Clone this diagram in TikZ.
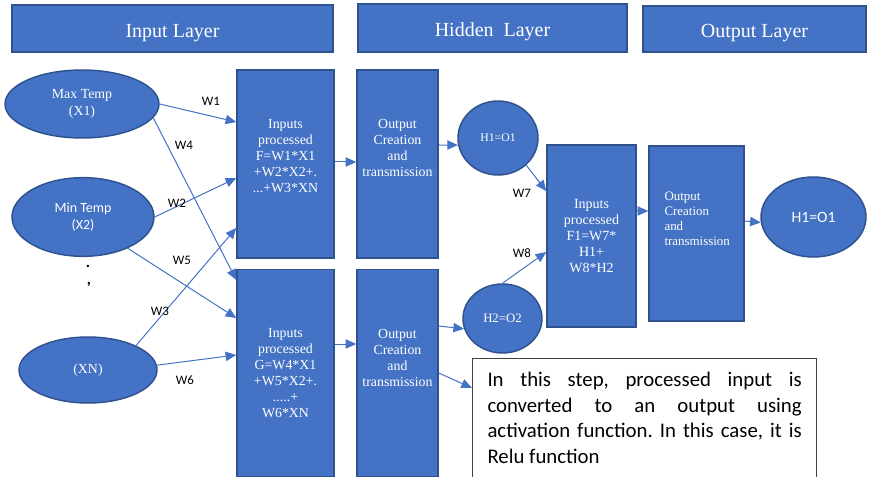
\documentclass[tikz,border=0pt]{standalone}
\usepackage{fontspec}
\setmainfont{Liberation Serif}
\newfontfamily\calibri{Carlito}
\usetikzlibrary{arrows.meta}
\usetikzlibrary{shapes.geometric}
\definecolor{nnblue}{HTML}{4472C4}
\definecolor{nnedge}{HTML}{2F528F}
\tikzset{
  layerbox/.style={draw=nnedge, line width=1.5pt, fill=nnblue, text=white, inner sep=0pt, text height=14.5pt, text depth=1.3pt, font=\fontsize{15}{18}\selectfont},
  blockbox/.style={draw=nnedge, line width=1.1pt, fill=nnblue, inner sep=0pt},
  blocktext/.style={text=white, align=center, inner sep=0pt, font=\fontsize{10.4}{12}\selectfont},
  neuron/.style={ellipse, draw=nnedge, line width=1.1pt, fill=nnblue, text=white, inner sep=0pt, align=center, font=\fontsize{10.4}{12.5}\selectfont},
  wlabel/.style={inner sep=0pt, font=\calibri\fontsize{9.7}{11}\selectfont},
  link/.style={nnblue, line width=0.75pt, -{Triangle[length=8pt,width=7pt]}},
}
\begin{document}
\begin{tikzpicture}[x=0.75pt,y=-0.75pt]
\useasboundingbox (0,0) rectangle (871,477);
% layer titles
\node[layerbox, minimum width=240.75pt, minimum height=35.25pt] (inlayer) at (172.5,28.5) {Input Layer};
\node[layerbox, minimum width=201.75pt, minimum height=36pt] (hidlayer) at (492.5,28) {Hidden\ \ Layer};
\node[layerbox, minimum width=167.25pt, minimum height=34.5pt] (outlayer) at (754.5,29) {Output Layer};
% inputs
\node[neuron, minimum width=115.5pt, minimum height=51pt] (x1) at (82,104) {Max Temp\\(X1)};
\node[neuron, minimum width=106.5pt, minimum height=59pt, font=\calibri\fontsize{10.5}{12.5}\selectfont] (x2) at (83,217) {Min Temp\\(X2)};
\node[inner sep=0pt, font=\calibri\bfseries\fontsize{12}{12}\selectfont] (dotA) at (88,266) {.};
\node[inner sep=0pt, font=\calibri\bfseries\fontsize{12}{12}\selectfont] (dotB) at (89,284) {,};
\node[neuron, minimum width=103.5pt, minimum height=49.5pt] (xn) at (88,370) {(XN)};
% first hidden stage
\node[blockbox, minimum width=72.75pt, minimum height=141pt] (procF) at (285.5,164) {};
\node[blocktext] (procFtxt) at ([yshift=6pt]procF.center) {Inputs\\processed\\F=W1*X1\\+W2*X2+.\\...+W3*XN};
\node[blockbox, minimum width=60.75pt, minimum height=141pt] (outF) at (397.5,164) {};
\node[blocktext] (outFtxt) at ([yshift=12pt]outF.center) {Output\\Creation\\and\\transmission};
\node[blockbox, minimum width=72.75pt, minimum height=155.25pt] (procG) at (285.5,373) {};
\node[blocktext] (procGtxt) at (procG.center) {Inputs\\processed\\G=W4*X1\\+W5*X2+.\\.....+\\W6*XN};
\node[blockbox, minimum width=60.75pt, minimum height=155.25pt] (outG) at (397.5,373) {};
\node[blocktext] (outGtxt) at ([yshift=11.6pt]outG.center) {Output\\Creation\\and\\transmission};
\node[neuron, minimum width=60pt, minimum height=55.5pt, font=\fontsize{8.8}{10}\selectfont] (h1) at (498,138) {H1=O1};
\node[neuron, minimum width=59.25pt, minimum height=51.75pt, font=\fontsize{9.6}{11}\selectfont] (h2) at (502.5,318.5) {H2=O2};
% second stage
\node[blockbox, minimum width=66.75pt, minimum height=136.5pt] (procH) at (591.5,236) {};
\node[blocktext, font=\fontsize{10.5}{12}\selectfont] (procHtxt) at (procH.center) {Inputs\\processed\\F1=W7*\\H1+\\W8*H2};
\node[blockbox, minimum width=71.25pt, minimum height=131.25pt] (outH) at (696.5,233.5) {};
\node[blocktext, align=left, anchor=west, font=\fontsize{9.7}{11.25}\selectfont] (outHtxt) at ([xshift=12pt,yshift=11.25pt]outH.west) {Output\\Creation\\and\\transmission};
\node[neuron, minimum width=78.75pt, minimum height=60pt, font=\calibri\fontsize{11.8}{13}\selectfont] (outEll) at (813.5,217) {H1=O1};
% remark
\node[draw=black!75, line width=0.75pt, fill=white, anchor=north west, text width=235.7pt, inner xsep=11.25pt, inner ysep=10pt, align=justify, font=\calibri\fontsize{15.6}{19.3}\selectfont\frenchspacing] (note) at (472,358) {In this step, processed input is\linebreak converted to an output using\linebreak activation function. In this case, it is\linebreak Relu function\rule[-16pt]{0pt}{16pt}};
% weights
\draw[link] (x1.east) -- ([yshift=31.5pt]procF.west);
\draw[link] (x1.-11) -- ([yshift=69.75pt]procG.west);
\draw[link] (x2.east) -- ([yshift=-10.5pt]procF.west);
\draw[link] (x2.-35) -- ([yshift=41.25pt]procG.west);
\draw[link] (xn.27) -- ([yshift=-48pt]procF.west);
\draw[link] (xn.4) -- ([yshift=13.5pt]procG.west);
\node[wlabel] (w1) at (211,101) {W1};
\node[wlabel] (w4) at (184,145) {W4};
\node[wlabel] (w2) at (177,203) {W2};
\node[wlabel] (w5) at (182,260) {W5};
\node[wlabel] (w3) at (160,311) {W3};
\node[wlabel] (w6) at (185,380) {W6};
% hidden flow
\draw[link] ([yshift=1.5pt]procF.east) -- ([yshift=1.5pt]outF.west);
\draw[link] ([yshift=14.25pt]outF.east) -- (h1.190);
\draw[link] ([yshift=21.75pt]procG.east) -- ([yshift=21.75pt]outG.west);
\draw[link] ([yshift=35.25pt]outG.east) -- (h2.195);
\draw[link] (outG.east) -- ([yshift=-22.5pt]note.north west);
\draw[link] (h1.-44) -- ([yshift=33.75pt]procH.west);
\draw[link] (h2.north) -- ([yshift=-12pt]procH.west);
\node[wlabel] (w7) at (522,193) {W7};
\node[wlabel] (w8) at (522,253) {W8};
\draw[link] ([yshift=18.75pt]procH.east) coordinate (hq) -- (hq -| outH.west);
\draw[link] ([yshift=9.4pt]outH.east) -- (outEll.186);
\end{tikzpicture}
\end{document}
